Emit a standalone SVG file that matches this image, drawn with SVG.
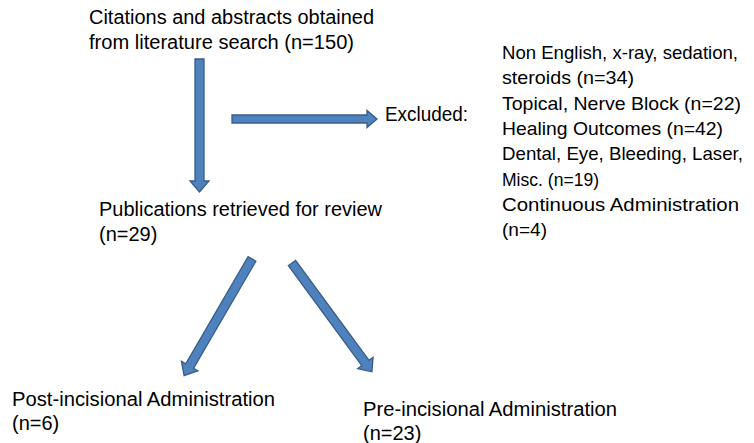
<svg xmlns="http://www.w3.org/2000/svg" width="754" height="443" viewBox="0 0 754 443">
<style>
text { font-family: "Liberation Sans", Arial, sans-serif; font-size: 20px; fill: #000; }
.list text { font-size: 18.5px; }
.arrow { fill: #4F81BD; stroke: #385D8A; stroke-width: 1.3; stroke-linejoin: miter; }
</style>
<rect width="754" height="443" fill="#fff"/>
<g id="node-citations">
  <text x="89" y="24" textLength="285" lengthAdjust="spacingAndGlyphs">Citations and abstracts obtained</text>
  <text x="89" y="49" textLength="265" lengthAdjust="spacingAndGlyphs">from literature search (n=150)</text>
</g>
<g id="node-excluded-label">
  <text x="385" y="121" textLength="83" lengthAdjust="spacingAndGlyphs">Excluded:</text>
</g>
<g id="node-excluded-list" class="list">
  <text x="502" y="59" textLength="236" lengthAdjust="spacingAndGlyphs">Non English, x-ray, sedation,</text>
  <text x="502" y="84.3" textLength="132" lengthAdjust="spacingAndGlyphs">steroids (n=34)</text>
  <text x="502" y="109.6" textLength="239" lengthAdjust="spacingAndGlyphs">Topical, Nerve Block (n=22)</text>
  <text x="502" y="134.9" textLength="221" lengthAdjust="spacingAndGlyphs">Healing Outcomes (n=42)</text>
  <text x="502" y="160.2" textLength="241" lengthAdjust="spacingAndGlyphs">Dental, Eye, Bleeding, Laser,</text>
  <text x="502" y="185.5" textLength="97" lengthAdjust="spacingAndGlyphs">Misc. (n=19)</text>
  <text x="502" y="210.8" textLength="237" lengthAdjust="spacingAndGlyphs">Continuous Administration</text>
  <text x="502" y="236.1" textLength="45" lengthAdjust="spacingAndGlyphs">(n=4)</text>
</g>
<g id="node-publications">
  <text x="99" y="216" textLength="283" lengthAdjust="spacingAndGlyphs">Publications retrieved for review</text>
  <text x="99" y="241">(n=29)</text>
</g>
<g id="node-post">
  <text x="12" y="406" textLength="263" lengthAdjust="spacingAndGlyphs">Post-incisional Administration</text>
  <text x="12" y="430">(n=6)</text>
</g>
<g id="node-pre">
  <text x="363" y="416" textLength="254" lengthAdjust="spacingAndGlyphs">Pre-incisional Administration</text>
  <text x="363" y="439.5">(n=23)</text>
</g>
<g id="connectors">
  <polygon class="arrow" transform="translate(199.5,59) rotate(90)" points="0,-4.5 122,-4.5 122,-9.5 133,0 122,9.5 122,4.5 0,4.5"/>
  <polygon class="arrow" transform="translate(232,119)" points="0,-4 135,-4 135,-8.5 145,0 135,8.5 135,4 0,4"/>
  <polygon class="arrow" transform="translate(252,259) rotate(120.2)" points="0,-4.5 124,-4.5 124,-9.5 135,0 124,9.5 124,4.5 0,4.5"/>
  <polygon class="arrow" transform="translate(292,263) rotate(53.7)" points="0,-4.5 124,-4.5 124,-9.5 135,0 124,9.5 124,4.5 0,4.5"/>
</g>
</svg>
